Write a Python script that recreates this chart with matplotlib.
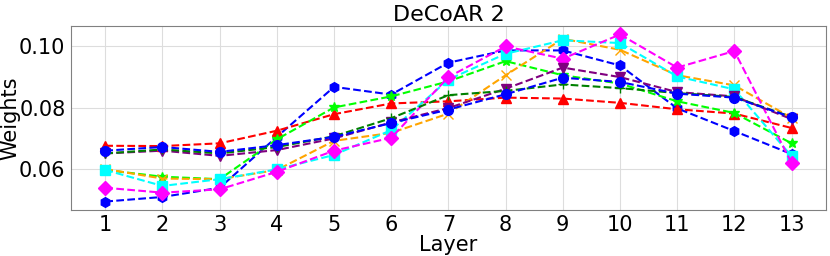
import matplotlib.pyplot as plt
import numpy as np

layers = np.arange(1, 14)

# per-series layer weights
blue_a = [0.0494, 0.0509, 0.0539, 0.0705, 0.0868, 0.0843, 0.0947, 0.0987, 0.0987, 0.0938, 0.0798, 0.0724, 0.0649]
red = [0.0676, 0.0675, 0.0684, 0.0725, 0.0779, 0.0814, 0.0821, 0.0833, 0.0830, 0.0816, 0.0795, 0.0781, 0.0734]
lime = [0.0597, 0.0575, 0.0567, 0.0697, 0.0801, 0.0837, 0.0886, 0.0952, 0.0906, 0.0879, 0.0821, 0.0783, 0.0684]
orange = [0.0600, 0.0569, 0.0567, 0.0597, 0.0692, 0.0718, 0.0781, 0.0906, 0.1025, 0.0989, 0.0906, 0.0873, 0.0767]
cyan = [0.0597, 0.0545, 0.0567, 0.0599, 0.0646, 0.0727, 0.0892, 0.0976, 0.1020, 0.1011, 0.0902, 0.0860, 0.0642]
magenta = [0.0539, 0.0523, 0.0534, 0.0591, 0.0660, 0.0702, 0.0900, 0.1000, 0.0960, 0.1039, 0.0931, 0.0985, 0.0620]
purple = [0.0651, 0.0660, 0.0643, 0.0662, 0.0700, 0.0752, 0.0799, 0.0862, 0.0931, 0.0900, 0.0851, 0.0837, 0.0763]
dark_green = [0.0651, 0.0664, 0.0651, 0.0672, 0.0707, 0.0766, 0.0841, 0.0855, 0.0876, 0.0864, 0.0848, 0.0835, 0.0770]
blue_b = [0.0660, 0.0672, 0.0656, 0.0678, 0.0705, 0.0750, 0.0794, 0.0844, 0.0898, 0.0884, 0.0846, 0.0833, 0.0769]

series = [
    (blue_a, "blue", "h"),
    (red, "red", "^"),
    (lime, "lime", "*"),
    (orange, "orange", "x"),
    (cyan, "cyan", "s"),
    (magenta, "magenta", "D"),
    (purple, "purple", "v"),
    (dark_green, "green", "+"),
    (blue_b, "blue", "o"),
]

fig, ax = plt.subplots(figsize=(8.3, 2.56), dpi=100)
fig.subplots_adjust(left=0.0855, right=0.995, top=0.898, bottom=0.18)

for values, color, marker in series:
    ax.plot(layers, values, linestyle="--", color=color, marker=marker,
            markersize=7, linewidth=1.5)

ax.set_title("DeCoAR 2", fontsize=16, pad=4)
ax.set_xlabel("Layer", fontsize=15, labelpad=0)
ax.set_ylabel("Weights", fontsize=15, labelpad=-1)
ax.set_xticks(layers)
ax.set_yticks([0.06, 0.08, 0.10])
ax.tick_params(labelsize=15, length=0, pad=4)
ax.grid(True, color="#dddddd", linewidth=0.8)
ax.set_axisbelow(True)
for spine in ax.spines.values():
    spine.set_color("gray")

fig.savefig("out.png", dpi=100)
